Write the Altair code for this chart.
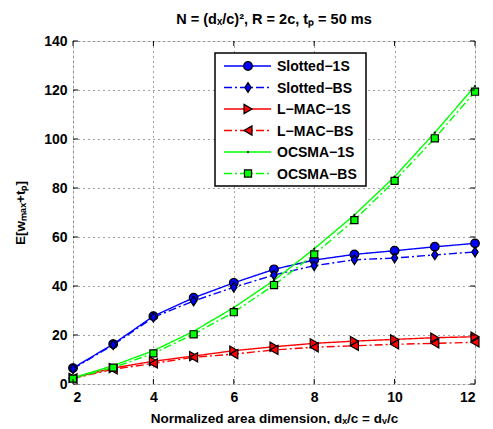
import altair as alt
import pandas as pd

x_vals = [2, 3, 4, 5, 6, 7, 8, 9, 10, 11, 12]
series_names = ["Slotted−1S", "Slotted−BS", "L−MAC−1S", "L−MAC−BS", "OCSMA−1S", "OCSMA−BS"]
slotted_1s = [6.5, 16.3, 27.7, 35.2, 41.3, 46.8, 50.6, 52.9, 54.4, 56.0, 57.4]
slotted_bs = [6.2, 16.0, 27.2, 33.9, 39.5, 44.5, 48.3, 50.7, 51.4, 52.7, 53.9]
lmac_1s = [2.5, 6.5, 9.3, 11.4, 13.6, 15.2, 16.6, 17.5, 18.2, 18.9, 19.3]
lmac_bs = [2.3, 6.0, 8.4, 10.9, 12.2, 13.9, 15.0, 15.6, 16.2, 16.6, 17.0]
ocsma_1s = [2.5, 7.5, 13.6, 21.5, 31.2, 42.3, 55.2, 69.0, 84.6, 102.6, 121.6]
ocsma_bs = [2.2, 6.7, 12.5, 20.3, 29.3, 40.4, 52.9, 66.9, 82.9, 100.3, 119.3]
y_ticks = [0, 20, 40, 60, 80, 100, 120, 140]
x_ticks = [2, 4, 6, 8, 10, 12]

colors = ["#0000FF", "#0000FF", "#FF0000", "#FF0000", "#00FF00", "#00FF00"]
fills = ["#0000FF", "#0000FF", "#FF0000", "#FF0000", "#000000", "#00FF00"]
dashes = [[1, 0], [8, 3, 2, 3], [1, 0], [8, 3, 2, 3], [1, 0], [8, 3, 2, 3]]
diamond = "M0,-1L0.65,0L0,1L-0.65,0Z"
shapes = ["circle", diamond, "triangle-right", "triangle-left", "circle", "square"]
sizes = [75, 95, 85, 85, 3, 50]
strokes = [1.2, 1.2, 1.2, 1.2, 0.5, 1.2]

all_vals = [slotted_1s, slotted_bs, lmac_1s, lmac_bs, ocsma_1s, ocsma_bs]
rows = []
for name, vals in zip(series_names, all_vals):
    for xv, yv in zip(x_vals, vals):
        rows.append({"x": xv, "y": yv, "series": name})
df = pd.DataFrame(rows)

W, H = 402, 343
FONT = "Liberation Sans"

xscale = alt.Scale(domain=[2, 12], nice=False, zero=False)
yscale = alt.Scale(domain=[0, 140], nice=False)
xtitle = "Normalized area dimension, dₓ/c = dᵧ/c"
ytitle = "E[wₘₐₓ+tₚ]"

xaxis = alt.Axis(values=x_ticks, title=xtitle, grid=True, ticks=False, domain=False,
                 labelFont=FONT, labelFontWeight="bold", labelFontSize=14, labelColor="black",
                 titleFont=FONT, titleFontWeight="bold", titleFontSize=13.5, titleColor="black",
                 gridColor="#444", gridDash=[1, 4], gridWidth=1, labelPadding=6, titlePadding=7)
yaxis = alt.Axis(values=y_ticks, title=ytitle, grid=True, ticks=False, domain=False,
                 labelFont=FONT, labelFontWeight="bold", labelFontSize=14, labelColor="black",
                 titleFont=FONT, titleFontWeight="bold", titleFontSize=13.5, titleColor="black",
                 gridColor="#444", gridDash=[1, 4], gridWidth=1, labelPadding=6, titlePadding=16)

sdomain = series_names

lines = alt.Chart(df).mark_line(strokeWidth=1.4).encode(
    x=alt.X("x:Q", scale=xscale, axis=xaxis, title=xtitle),
    y=alt.Y("y:Q", scale=yscale, axis=yaxis, title=ytitle),
    color=alt.Color("series:N", scale=alt.Scale(domain=sdomain, range=colors), legend=None),
    strokeDash=alt.StrokeDash("series:N", scale=alt.Scale(domain=sdomain, range=dashes), legend=None),
    detail="series:N",
)

point_layers = []
for i, name in enumerate(series_names):
    point_layers.append(
        alt.Chart(df).transform_filter(alt.datum.series == name).mark_point(
            filled=True, fill=fills[i], stroke="black", strokeWidth=strokes[i],
            shape=shapes[i], size=sizes[i], opacity=1).encode(
            x=alt.X("x:Q", scale=xscale, title=xtitle),
            y=alt.Y("y:Q", scale=yscale, title=ytitle),
        )
    )

ydf = pd.DataFrame({"v": y_ticks})
xdf = pd.DataFrame({"v": x_ticks})
tick_layers = [
    alt.Chart(ydf).mark_rule(color="black", strokeWidth=1).encode(
        y=alt.Y("v:Q", scale=yscale, title=ytitle), x=alt.value(0), x2=alt.value(5)),
    alt.Chart(ydf).mark_rule(color="black", strokeWidth=1).encode(
        y=alt.Y("v:Q", scale=yscale, title=ytitle), x=alt.value(W - 5), x2=alt.value(W)),
    alt.Chart(xdf).mark_rule(color="black", strokeWidth=1).encode(
        x=alt.X("v:Q", scale=xscale, title=xtitle), y=alt.value(H), y2=alt.value(H - 5)),
    alt.Chart(xdf).mark_rule(color="black", strokeWidth=1).encode(
        x=alt.X("v:Q", scale=xscale, title=xtitle), y=alt.value(0), y2=alt.value(5)),
]

one = pd.DataFrame({"a": [0]})
LX0, LX1, LY0, LY1 = 142, 293, 12, 145
legend_layers = [
    alt.Chart(one).mark_rect(fill="white", stroke="black", strokeWidth=1.5).encode(
        x=alt.value(LX0), x2=alt.value(LX1), y=alt.value(LY0), y2=alt.value(LY1))
]
for i, name in enumerate(series_names):
    ry = 25 + i * 21.5
    legend_layers.append(
        alt.Chart(one).mark_rule(color=colors[i], strokeWidth=1.4, strokeDash=dashes[i]).encode(
            x=alt.value(151), x2=alt.value(198), y=alt.value(ry)))
    legend_layers.append(
        alt.Chart(one).mark_point(filled=True, fill=fills[i], stroke="black", strokeWidth=strokes[i],
                                  shape=shapes[i], size=sizes[i], opacity=1).encode(
            x=alt.value(175), y=alt.value(ry)))
    legend_layers.append(
        alt.Chart(one).mark_text(text=name, align="left", baseline="middle", font=FONT,
                                 fontWeight="bold", fontSize=14, color="black").encode(
            x=alt.value(204), y=alt.value(ry + 1)))

chart = alt.layer(lines, *point_layers, *tick_layers, *legend_layers).properties(
    width=W, height=H,
    title=alt.TitleParams("N = (dₓ/c)², R = 2c, tₚ = 50 ms", font=FONT, fontWeight="bold",
                          fontSize=14.5, color="black", offset=7, anchor="middle"),
    autosize=alt.AutoSizeParams(type="none"),
    padding={"left": 65, "top": 33, "right": 10, "bottom": 40},
).configure_view(stroke="black", strokeWidth=1.5).configure(background="white")

chart.save("out.html", embed_options={"renderer": "svg", "actions": False})
